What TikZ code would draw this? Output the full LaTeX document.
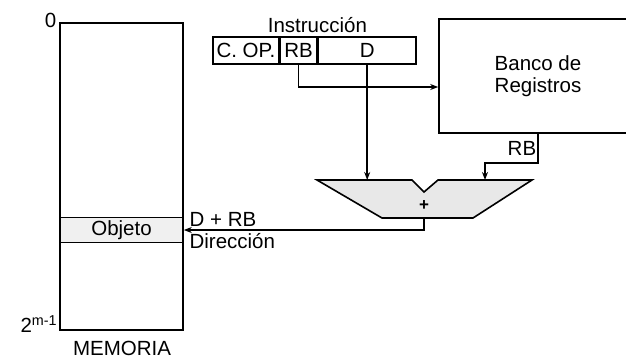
\documentclass[tikz,border=0pt]{standalone}
\usepackage{fontspec}
\setmainfont{Liberation Sans}
\usetikzlibrary{positioning,arrows.meta}
\begin{document}
\begin{tikzpicture}[x=1pt, y=-1pt, >={Stealth[length=8pt,width=6pt]}, line width=1.6pt,
    every node/.style={font=\fontsize{20.5}{22}\selectfont, inner sep=1pt},
    campo/.style={draw, minimum height=27pt, inner sep=0pt},
    bloque/.style={draw, align=center}]
  \clip (0,0) rectangle (626,360);

  % memoria
  \node[draw, minimum width=123pt, minimum height=307pt] (mem) at (121.5,176.5) {};
  \node[draw, fill=gray!12, minimum width=123pt, minimum height=25pt] (obj) at (121.5,230) {Objeto};
  \node[left] (cero) at (58,20) {0};
  \node[left] (ultima) at (59,324) {2\textsuperscript{m-1}};
  \node (etiq) at (122,348) {MEMORIA};

  % instruccion
  \node[campo, minimum width=66pt] (cop) at (246,50.5) {C. OP.};
  \node[campo, minimum width=36pt, right=0pt of cop] (rb) {RB};
  \node[campo, minimum width=98pt, right=0pt of rb] (d) {D};
  \node[above=2pt of rb.north east] (instr) {Instrucción};

  % banco de registros
  \node[bloque, minimum width=198pt, minimum height=114pt] (banco) at (538,76) {Banco de\\Registros};
  \draw[->] (rb.south) |- ([yshift=-11pt]banco.west);

  % sumador
  \coordinate (sumD) at (365,180);
  \coordinate (sumRB) at (485,180);
  \coordinate (sumOut) at (424,218);
  \draw[fill=gray!18] (317,180) -- (412,180) -- (424,192) -- (438,180) -- (532,180)
    -- (473,218) -- (382,218) -- cycle;
  \node[font=\fontsize{17}{18}\bfseries] (mas) at (424,206) {+};
  \draw[->] (d.south) -- (d.south |- sumD);
  \draw[->] (banco.south) -- ++(0,29) node[midway, left] (rbsal) {RB} -| (sumRB);

  % direccion
  \draw[->] (sumOut) |- (obj.east);
  \node[above right=1.5pt and 4pt of obj.east] (suma) {D + RB};
  \node[below right=2pt and 4pt of obj.east] (dir) {Dirección};
\end{tikzpicture}
\end{document}
